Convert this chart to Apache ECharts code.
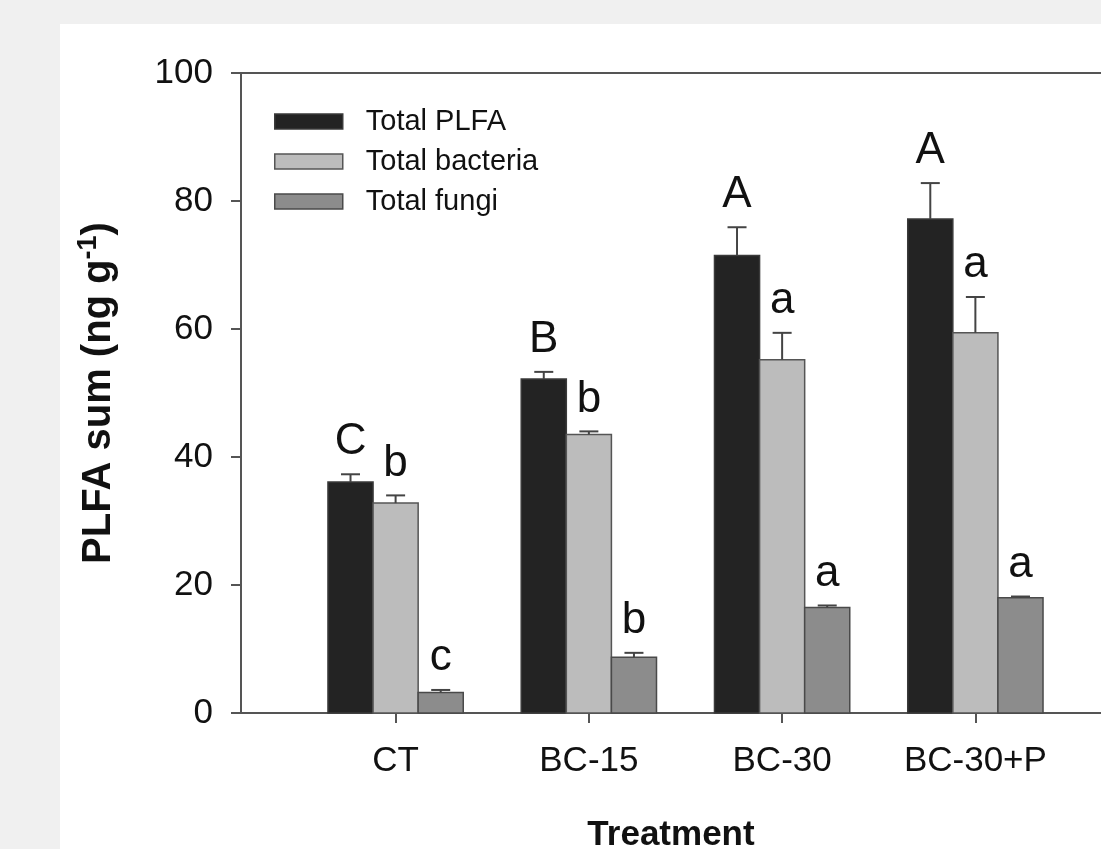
<!DOCTYPE html>
<html>
<head>
<meta charset="utf-8">
<script src="https://cdn.jsdelivr.net/npm/echarts@6/dist/echarts.min.js"></script>
<style>
  html, body { margin: 0; padding: 0; background: #f0f0f0; }
  #chart { position: absolute; left: 60px; top: 24px; width: 1041px; height: 825px; background: #ffffff; }
</style>
</head>
<body>
<div id="chart"></div>
<script>
const categories = ['CT', 'BC-15', 'BC-30', 'BC-30+P'];
const seriesNames = ['Total PLFA', 'Total bacteria', 'Total fungi'];

const totalPLFA = [36.1, 52.2, 71.5, 77.2];
const totalPLFAErr = [1.2, 1.1, 4.4, 5.6];
const totalPLFALetters = ['C', 'B', 'A', 'A'];

const totalBacteria = [32.8, 43.5, 55.2, 59.4];
const totalBacteriaErr = [1.2, 0.5, 4.2, 5.6];
const totalBacteriaLetters = ['b', 'b', 'a', 'a'];

const totalFungi = [3.2, 8.7, 16.5, 18.0];
const totalFungiErr = [0.4, 0.7, 0.3, 0.2];
const totalFungiLetters = ['c', 'b', 'a', 'a'];

const FONT = '"Liberation Sans", Arial, sans-serif';
const colors = ['#232323', '#bcbcbc', '#8c8c8c'];
const borders = ['#3a3a3a', '#555555', '#4a4a4a'];
const barW = 0.7 / 3;

const chart = echarts.init(document.getElementById('chart'));

function makeSeries(idx, values, errs, letters) {
  return {
    name: seriesNames[idx],
    type: 'custom',
    itemStyle: { color: colors[idx] },
    encode: { x: 0, y: 1 },
    data: values.map((v, j) => [j + 1, v, errs[j]]),
    renderItem: function (params, api) {
      const x = api.value(0) + (idx - 1) * barW;
      const v = api.value(1);
      const e = api.value(2);
      const tl = api.coord([x - barW / 2, v]);
      const br = api.coord([x + barW / 2, 0]);
      const top = api.coord([x, v]);
      const cap = api.coord([x, v + e]);
      return {
        type: 'group',
        children: [
          {
            type: 'rect',
            shape: { x: tl[0], y: tl[1], width: br[0] - tl[0], height: br[1] - tl[1] },
            style: { fill: colors[idx], stroke: borders[idx], lineWidth: 1.5 }
          },
          {
            type: 'line',
            shape: { x1: top[0], y1: top[1], x2: cap[0], y2: cap[1] },
            style: { stroke: '#444', lineWidth: 2 }
          },
          {
            type: 'line',
            shape: { x1: cap[0] - 9.5, y1: cap[1], x2: cap[0] + 9.5, y2: cap[1] },
            style: { stroke: '#444', lineWidth: 2 }
          },
          {
            type: 'text',
            x: cap[0],
            y: cap[1] - 10,
            style: {
              text: letters[params.dataIndex],
              fill: '#111',
              font: '44px ' + FONT,
              align: 'center',
              verticalAlign: 'bottom'
            }
          }
        ]
      };
    }
  };
}

const option = {
  animation: false,
  textStyle: { fontFamily: FONT },
  legend: {
    orient: 'vertical',
    left: 209,
    top: 78,
    itemWidth: 68,
    itemHeight: 15,
    itemGap: 11,
    icon: 'rect',
    textStyle: { fontSize: 29, color: '#111', lineHeight: 28, padding: [0, 0, 0, 18] },
    data: seriesNames.map((n, i) => ({
      name: n,
      itemStyle: { color: colors[i], borderColor: borders[i], borderWidth: 1.5 }
    }))
  },
  grid: { left: 181, top: 49, right: 0, bottom: 136, outerBoundsMode: 'none' },
  xAxis: [
    {
      type: 'value',
      min: 0.2,
      max: 4.65,
      position: 'bottom',
      splitLine: { show: false },
      axisLine: { lineStyle: { color: '#555', width: 2 } },
      axisTick: { customValues: [1, 2, 3, 4], length: 10, lineStyle: { color: '#555', width: 2 } },
      axisLabel: {
        customValues: [1, 2, 3, 4],
        formatter: v => categories[Math.round(v) - 1],
        fontSize: 35,
        color: '#111',
        margin: 31
      },
      name: 'Treatment',
      nameLocation: 'middle',
      nameGap: 105,
      nameTextStyle: { fontSize: 35, fontWeight: 'bold', color: '#111' }
    },
    {
      type: 'value',
      min: 0.2,
      max: 4.65,
      position: 'top',
      splitLine: { show: false },
      axisLine: { lineStyle: { color: '#555', width: 2 } },
      axisTick: { show: false },
      axisLabel: { show: false }
    }
  ],
  yAxis: {
    type: 'value',
    min: 0,
    max: 100,
    interval: 20,
    splitLine: { show: false },
    axisLine: { show: true, lineStyle: { color: '#555', width: 2 } },
    axisTick: { show: true, length: 10, lineStyle: { color: '#555', width: 2 } },
    axisLabel: { fontSize: 35, color: '#111', margin: 28 },
    name: '{b|PLFA sum (ng g}{sup|-1}{b|)}',
    nameLocation: 'middle',
    nameGap: 118,
    nameTextStyle: {
      rich: {
        b: { fontSize: 40, fontWeight: 'bold', color: '#111', fontFamily: FONT, lineHeight: 48 },
        sup: { fontSize: 27, fontWeight: 'bold', color: '#111', fontFamily: FONT, verticalAlign: 'top', lineHeight: 27 }
      }
    }
  },
  series: [
    makeSeries(0, totalPLFA, totalPLFAErr, totalPLFALetters),
    makeSeries(1, totalBacteria, totalBacteriaErr, totalBacteriaLetters),
    makeSeries(2, totalFungi, totalFungiErr, totalFungiLetters)
  ]
};

chart.setOption(option);
</script>
</body>
</html>
